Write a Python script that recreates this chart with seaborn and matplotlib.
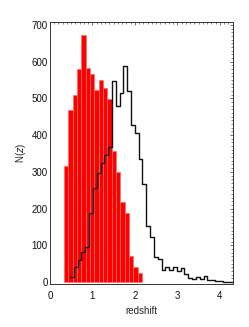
import numpy as np
import pandas as pd
import matplotlib
matplotlib.use("Agg")
import matplotlib.pyplot as plt
from matplotlib.ticker import MultipleLocator
import seaborn as sns

# ---- data ----
red_counts = [317, 469, 509, 580, 672, 582, 566, 524, 550, 527, 498, 357, 299, 219, 187, 70, 40, 25]
black_counts = [14, 42, 60, 83, 96, 187, 255, 296, 324, 346, 368,
                548, 480, 516, 587, 520, 428, 405, 334, 266, 153, 122,
                69, 63, 33, 42, 33, 42, 30, 37, 21, 12,
                8, 15, 9, 16, 6, 5, 2, 3, 1, 1, 1]
x_ticks = [0, 1, 2, 3, 4]
y_ticks = [0, 100, 200, 300, 400, 500, 600, 700]

# ---- bin geometry ----
red_start, red_width = 0.33, 0.102
black_start, black_width = 0.47, 0.0898
red_edges = red_start + red_width * np.arange(len(red_counts) + 1)
black_edges = black_start + black_width * np.arange(len(black_counts) + 1)

red_df = pd.DataFrame({"z": (red_edges[:-1] + red_edges[1:]) / 2, "n": red_counts})
black_df = pd.DataFrame({"z": (black_edges[:-1] + black_edges[1:]) / 2, "n": black_counts})

sns.set_style("white")
plt.rcParams["font.family"] = ["Liberation Sans", "DejaVu Sans"]

fig = plt.figure(figsize=(2.49, 3.27), dpi=100)
ax = fig.add_axes([50 / 249, 1 - 284 / 327, 183 / 249, 262 / 327])

sns.histplot(data=red_df, x="z", weights="n", binwidth=red_width,
             binrange=(float(red_edges[0]), float(red_edges[-1])), element="bars",
             color="#ff0000", alpha=1.0, edgecolor="#ff6a6a", linewidth=0.5, ax=ax)
sns.histplot(data=black_df, x="z", weights="n", binwidth=black_width,
             binrange=(float(black_edges[0]), float(black_edges[-1])), element="step",
             fill=False, color="#111111", linewidth=1.0, ax=ax)

ax.set_xlim(0, 4.306)
ax.set_ylim(-5.4, 708)
ax.set_xticks(x_ticks)
ax.set_yticks(y_ticks)
ax.xaxis.set_minor_locator(MultipleLocator(0.1))
ax.yaxis.set_minor_locator(MultipleLocator(10))
ax.tick_params(which="both", direction="in", top=True, right=True, colors="#555555",
               labelcolor="#111111", labelsize=7)
ax.tick_params(which="major", length=2.2, width=0.6)
ax.tick_params(which="minor", length=1.1, width=0.5)
ax.tick_params(axis="x", pad=5)
ax.tick_params(axis="y", pad=1.5)

for s in ax.spines.values():
    s.set_color("#333333")
    s.set_linewidth(0.7)

ax.set_xlabel("redshift", fontsize=7, labelpad=4)
ax.set_ylabel(r"N($z$)", fontsize=7, labelpad=3)

fig.savefig("out.png", dpi=100)
